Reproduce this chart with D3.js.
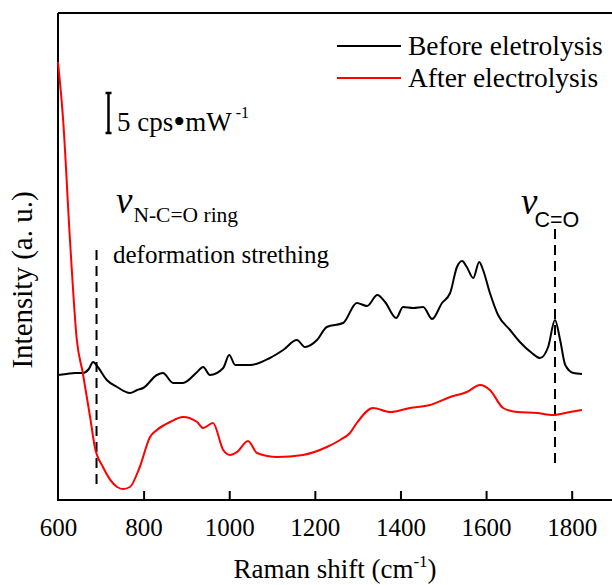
<!DOCTYPE html>
<html><head><meta charset="utf-8">
<script src="https://cdn.jsdelivr.net/npm/d3@7"></script>
<style>body{margin:0;background:#fff}svg{display:block}.srf{font-family:"Liberation Serif","DejaVu Serif",serif}.sns{font-family:"Liberation Sans","DejaVu Sans",sans-serif}</style>
</head><body>
<svg id="c" width="612" height="585"></svg>
<script>
// Data (intensity in arbitrary units)
const beforeX = [600,620,640,658,672,682,693,714,738,768,785,799,831,845,869,892,925,939,955,986,1000,1014,1049,1095,1126,1158,1177,1205,1228,1266,1298,1322,1346,1364,1390,1406,1430,1453,1474,1497,1516,1532,1544,1555,1570,1584,1593,1609,1628,1656,1679,1707,1726,1745,1761,1773,1785,1804,1824];
const beforeY = [125,126,127,127,131,138,133,120,113,107,110,112,125,127,117,117,128,133,125,132,145,135,135,142,150,160,153,160,173,177,197,194,205,198,182,193,192,193,181,197,207,233,239,233,222,238,230,207,185,170,158,147,142,153,180,160,135,127,126];
const afterX = [600,612,628,644,658,675,686,705,738,752,768,791,815,831,862,892,925,939,962,986,1002,1018,1044,1065,1112,1172,1228,1259,1282,1298,1336,1376,1422,1469,1516,1555,1586,1609,1640,1672,1719,1757,1796,1824];
const afterY = [438,380,260,160,127,83,53,33,13,11,13,33,63,70,78,83,78,72,77,50,45,48,59,47,43,45,53,60,67,77,92,88,92,95,103,108,115,110,92,88,87,85,88,90];
const xTicks = [600,800,1000,1200,1400,1600,1800];
const seriesNames = ["Before eletrolysis","After electrolysis"];
const seriesColors = ["#000000","#ff0000"];
const markerX = [690,1761];

const svg = d3.select("#c");
const x = d3.scaleLinear().domain([600,1900]).range([58,614.5]);
const y = d3.scaleLinear().domain([0,487]).range([500,13]);

// frame
svg.append("path").attr("d",`M58,13H620M58,13V500H620`).attr("fill","none").attr("stroke","#000").attr("stroke-width",2);

// x axis
const ax = svg.append("g").attr("transform","translate(0,500)")
  .call(d3.axisBottom(x).tickValues(xTicks).tickSize(-9).tickPadding(19).tickFormat(d3.format("d")));
ax.attr("font-family",null).attr("font-size",null);
ax.select(".domain").remove();
ax.selectAll(".tick line").attr("stroke","#000").attr("stroke-width",2);
ax.selectAll(".tick").filter(d=>d===600).select("line").remove();
ax.selectAll("text").attr("class","srf").style("font-size","25px").attr("fill","#000").attr("dy","0.68em");

// markers (dashed)
svg.append("line").attr("x1",x(markerX[0])).attr("x2",x(markerX[0])).attr("y1",250).attr("y2",488)
  .attr("stroke","#000").attr("stroke-width",2).attr("stroke-dasharray","10,6");
svg.append("line").attr("x1",x(markerX[1])).attr("x2",x(markerX[1])).attr("y1",229).attr("y2",465)
  .attr("stroke","#000").attr("stroke-width",2).attr("stroke-dasharray","10,6");

// curves
const line = d3.line().x(d=>x(d[0])).y(d=>y(d[1])).curve(d3.curveMonotoneX);
svg.append("path").datum(beforeX.map((v,i)=>[v,beforeY[i]])).attr("d",line)
  .attr("fill","none").attr("stroke",seriesColors[0]).attr("stroke-width",2);
svg.append("path").datum(afterX.map((v,i)=>[v,afterY[i]])).attr("d",line)
  .attr("fill","none").attr("stroke",seriesColors[1]).attr("stroke-width",2);

// legend
seriesNames.forEach((n,i)=>{
  const yy = 46 + i*32;
  svg.append("line").attr("x1",337).attr("x2",401).attr("y1",yy).attr("y2",yy).attr("stroke",seriesColors[i]).attr("stroke-width",2);
  svg.append("text").attr("class","srf").attr("x",408).attr("y",yy+9).text(n).style("font-size","27.5px").attr("fill","#000");
});

// scale bar
svg.append("path").attr("d","M105.5,93H111.5M108.5,93V133M105.5,133H111.5").attr("fill","none").attr("stroke","#000").attr("stroke-width",2.5);
const sb = svg.append("text").attr("class","srf").attr("x",117).attr("y",131).style("font-size","27px").attr("fill","#000");
sb.append("tspan").text("5 cps");
sb.append("tspan").style("font-size","34px").attr("dy",2).text("\u2022");
sb.append("tspan").attr("dy",-2).text("mW");
sb.append("tspan").attr("dx",4).attr("dy",-13).style("font-size","16px").text("-1");

// annotations
const a1 = svg.append("text").attr("class","srf").attr("x",116).attr("y",213).attr("fill","#000");
a1.append("tspan").style("font-size","37px").attr("font-style","italic").text("\u03BD");
a1.append("tspan").style("font-size","21.5px").attr("dy",9).attr("dx",1).text("N-C=O ring");
svg.append("text").attr("class","srf").attr("x",113).attr("y",263).style("font-size","25px").attr("fill","#000").text("deformation strething");
const a2 = svg.append("text").attr("x",521).attr("y",214).attr("fill","#000");
a2.append("tspan").attr("class","srf").style("font-size","37px").attr("font-style","italic").text("\u03BD");
a2.append("tspan").attr("class","sns").style("font-size","21.5px").attr("dy",13).attr("dx",-3).text("C=O");

// axis titles
const xt = svg.append("text").attr("class","srf").attr("x",335).attr("y",578).attr("text-anchor","middle").style("font-size","27px").attr("fill","#000");
xt.append("tspan").text("Raman shift (cm");
xt.append("tspan").attr("dy",-11).style("font-size","17px").text("-1");
xt.append("tspan").attr("dy",11).text(")");
svg.append("text").attr("class","srf").attr("transform","translate(32,280) rotate(-90)").attr("text-anchor","middle").style("font-size","29px").attr("fill","#000").text("Intensity (a. u.)");
</script>
</body></html>
